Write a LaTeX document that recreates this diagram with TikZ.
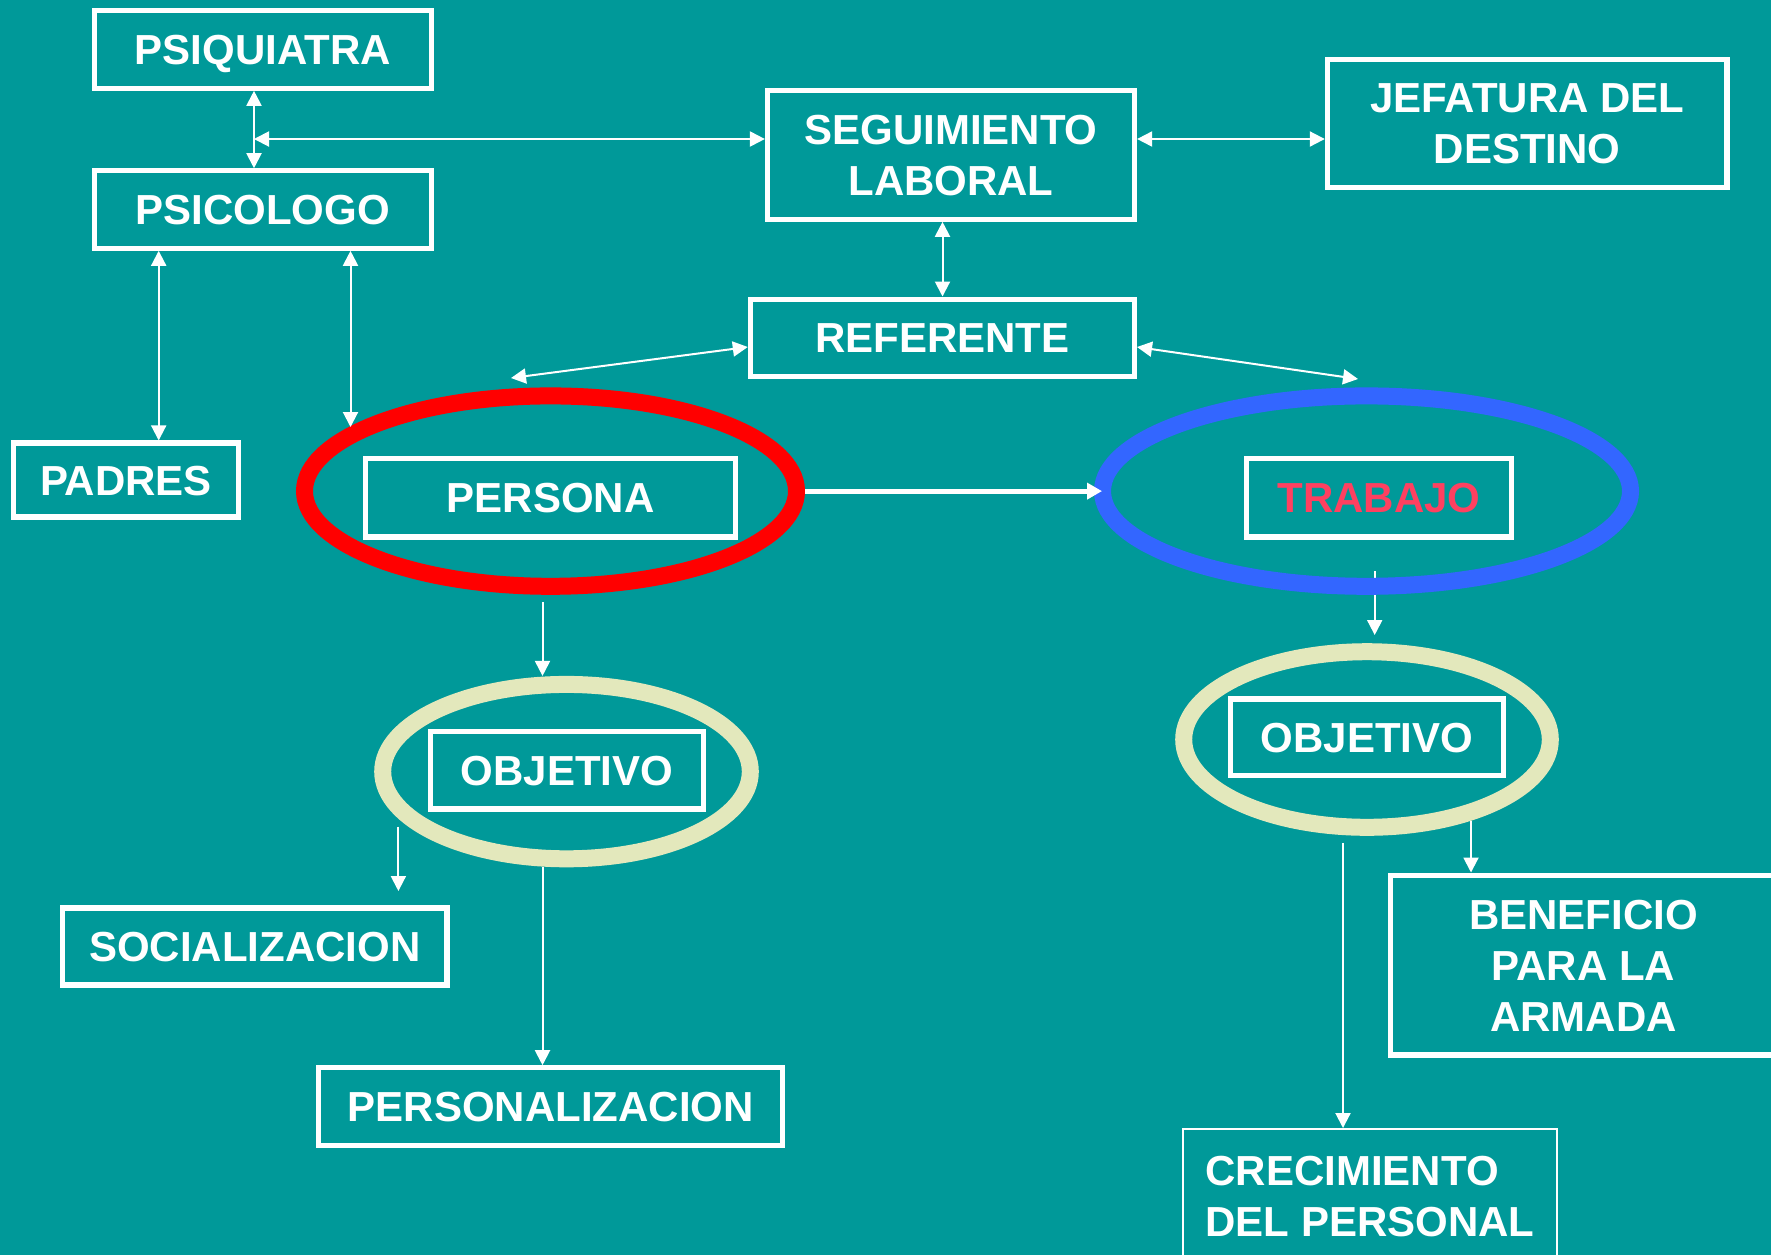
\documentclass[tikz,border=0pt]{standalone}
\usepackage{fontspec}
\setmainfont{Liberation Sans}
\usetikzlibrary{arrows.meta,shapes.geometric}
\definecolor{bg}{RGB}{0,153,153}
\definecolor{cream}{RGB}{227,232,188}
\definecolor{eblue}{RGB}{51,102,255}
\definecolor{tpink}{RGB}{255,64,96}
\begin{document}
\begin{tikzpicture}[x=0.5pt,y=-0.5pt,
  box/.style={draw=white, line width=2.6pt, text=white, inner sep=0pt,
    font=\bfseries\fontsize{21pt}{25.5pt}\selectfont},
  oneline/.style={box, text height=15pt, text depth=0pt},
  twoline/.style={box, align=center, text height=40.5pt, text depth=0pt},
  threeline/.style={box, align=center, text height=66pt, text depth=0pt},
  ring/.style={ellipse, line width=8.5pt, inner sep=0pt},
  link/.style={draw=white, line width=1pt, {Triangle[length=7.5pt,width=7.5pt]}-{Triangle[length=7.5pt,width=7.5pt]}},
  one/.style={draw=white, line width=1pt, -{Triangle[length=7.5pt,width=7.5pt]}},
  bigone/.style={draw=white, line width=2.5pt, -{Triangle[length=7.5pt,width=8pt]}},
]
\fill[bg] (0,0) rectangle (1771,1255);
\useasboundingbox (0,0) rectangle (1771,1255);

% free-end coordinates
\coordinate (v1) at (254,139);
\coordinate (v2) at (942.5,0);
\coordinate (v3) at (158.7,0);
\coordinate (v4) at (350.5,0);
\coordinate (r1) at (0,347);
\coordinate (pl) at (511,378);
\coordinate (pr) at (1358,379);
\coordinate (pp) at (350.5,427);
\coordinate (a1) at (542.5,602);
\coordinate (s1) at (398.4,826.5);
\coordinate (e1) at (398.4,891);
\coordinate (b1) at (1374.7,571);
\coordinate (b2) at (1374.7,635);
\coordinate (s14) at (1471,820.6);
\coordinate (s15) at (1343,842.8);

% arrow under the blue ring
\draw[one] (b1) -- (b2);

% rings
\node[ring, draw=red, minimum width=246pt, minimum height=95.2pt] (epers) at (550.5,491.1) {};
\node[ring, draw=eblue, minimum width=264pt, minimum height=95.2pt] (etrab) at (1366.5,491.1) {};
\node[ring, draw=cream, minimum width=183.8pt, minimum height=87.2pt] (eobj1) at (566.5,771.6) {};
\node[ring, draw=cream, minimum width=183.3pt, minimum height=87.8pt] (eobj2) at (1367,739.5) {};

% boxes
\node[oneline, minimum width=168.5pt, minimum height=38.7pt] (psiq) at (262.8,49.5) {PSIQUIATRA};
\node[oneline, minimum width=168.5pt, minimum height=38.7pt] (psic) at (262.8,209.5) {PSICOLOGO};
\node[oneline, minimum width=112.3pt, minimum height=37pt] (padres) at (126,480) {PADRES};
\node[twoline, minimum width=183.5pt, minimum height=64.2pt] (seg) at (951,155) {SEGUIMIENTO\\LABORAL};
\node[twoline, minimum width=199.8pt, minimum height=64.2pt] (jef) at (1527.2,123.3) {JEFATURA DEL\\DESTINO};
\node[oneline, minimum width=192pt, minimum height=38.7pt] (ref) at (942.4,337.8) {REFERENTE};
\node[oneline, minimum width=185pt, minimum height=39.2pt] (persona) at (550.5,497.7) {PERSONA};
\node[oneline, minimum width=132.5pt, minimum height=39.2pt, text=tpink] (trabajo) at (1379,497.7) {TRABAJO};
\node[oneline, minimum width=136.7pt, minimum height=38.9pt] (obj1) at (566.9,770.1) {OBJETIVO};
\node[oneline, minimum width=136.5pt, minimum height=38.3pt] (obj2) at (1367,737.3) {OBJETIVO};
\node[oneline, minimum width=192.1pt, minimum height=38.5pt] (soc) at (254.9,946.4) {SOCIALIZACION};
\node[oneline, minimum width=232pt, minimum height=38.7pt] (perz) at (550.8,1106.5) {PERSONALIZACION};
\node[threeline, minimum width=193pt, minimum height=89.9pt] (ben) at (1583.5,965) {BENEFICIO\\PARA LA\\ARMADA};
\node[box, line width=1pt, align=left, text height=40.5pt, text depth=0pt, minimum width=187pt, minimum height=67pt] (crec) at (1370,1196) {CRECIMIENTO\\DEL PERSONAL};

% connectors
\draw[link] (psiq.south -| v1) -- (psic.north -| v1);
\draw[link] (v1) -- (seg.west |- v1);
\draw[link] (seg.east |- v1) -- (jef.west |- v1);
\draw[link] (seg.south -| v2) -- (ref.north -| v2);
\draw[link] (ref.west |- r1) -- (pl);
\draw[link] (ref.east |- r1) -- (pr);
\draw[link] (psic.south -| v3) -- (padres.north -| v3);
\draw[link] (psic.south -| v4) -- (pp);
\draw[bigone] (epers.east) -- ([xshift=4pt]etrab.west);
\draw[one] (a1) -- (eobj1.north -| a1);
\draw[one] (s1) -- (e1);
\draw[one] (eobj1.south -| a1) -- (perz.north -| a1);
\draw[one] (s14) -- (ben.north -| s14);
\draw[one] (s15) -- (crec.north -| s15);
\end{tikzpicture}
\end{document}
